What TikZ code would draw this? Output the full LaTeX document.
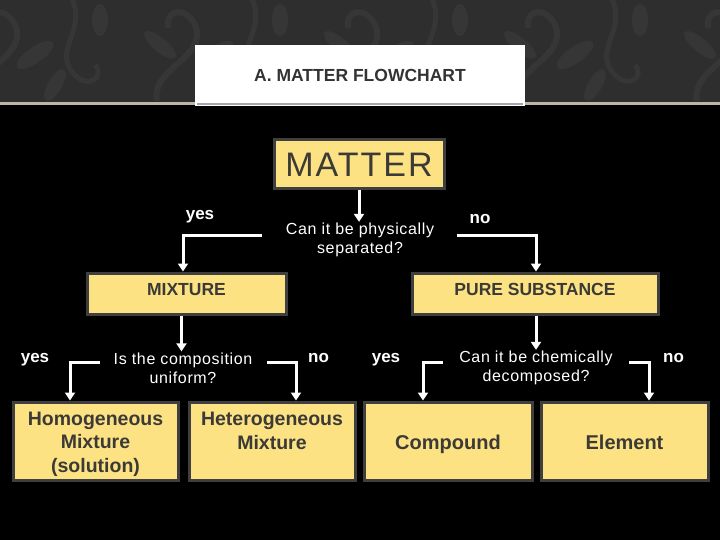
\documentclass[tikz,border=0pt]{standalone}
\usepackage{fontspec}
\setmainfont{Liberation Sans}
\usetikzlibrary{arrows.meta}
\definecolor{band}{HTML}{2E2E2E}
\definecolor{damask}{HTML}{363636}
\definecolor{boxfill}{HTML}{FCE283}
\definecolor{boxline}{HTML}{3F3F3F}
\definecolor{boxtext}{HTML}{3C3A36}
\definecolor{stripe}{HTML}{BDB6A0}
\definecolor{titletext}{HTML}{333333}
\begin{document}
\begin{tikzpicture}[x=1pt,y=-1pt,
  yellowbox/.style={draw=boxline, line width=3pt, fill=boxfill, text=boxtext,
    inner sep=0pt, align=center, font=\bfseries\fontsize{19.5}{23.5}\selectfont},
  catbox/.style={yellowbox, font=\bfseries\fontsize{17.5}{21}\selectfont,
    text height=12.5pt, text depth=8pt},
  boxlabel/.style={text=boxtext, inner sep=0pt, align=center,
    font=\bfseries\fontsize{19.5}{23.5}\selectfont},
  biglabel/.style={boxlabel, font=\bfseries\fontsize{20}{24}\selectfont},
  question/.style={text=white, align=center,
    font=\fontsize{16}{19}\selectfont\addfontfeatures{LetterSpace=4}, inner sep=1pt},
  answer/.style={text=white, font=\bfseries\fontsize{17}{20}\selectfont, inner sep=0pt, anchor=base},
  flow/.style={draw=white, line width=3pt, -{Triangle[width=10pt,length=8pt]}},
]
\useasboundingbox (0,0) rectangle (720,540);
\fill[black] (0,0) rectangle (720,540);
\fill[band] (0,0) rectangle (720,103);
% damask texture
\begin{scope}
  \clip (0,0) rectangle (720,101);
  \foreach \x in {-40,140,...,760}{
    \draw[damask, line width=6pt] (\x+20,110) .. controls (\x,70) and (\x+70,60) .. (\x+55,25)
      .. controls (\x+45,5) and (\x+25,10) .. (\x+28,28);
    \fill[damask, rotate around={35:(\x+75,55)}] (\x+75,55) ellipse (22 and 8);
    \fill[damask, rotate around={-40:(\x+20,45)}] (\x+20,45) ellipse (20 and 7);
    \fill[damask, rotate around={60:(\x+95,85)}] (\x+95,85) ellipse (18 and 7);
    \draw[damask, line width=5pt] (\x+110,-5) .. controls (\x+130,30) and (\x+90,50) .. (\x+115,75)
      .. controls (\x+130,90) and (\x+145,75) .. (\x+135,65);
    \fill[damask] (\x+140,20) ellipse (8 and 16);
  }
\end{scope}
\fill[stripe] (0,102) rectangle (720,105.5);

% title
\node[fill=white, minimum width=330pt, minimum height=61pt, inner sep=0pt,
  text=titletext, font=\bfseries\fontsize{17.5}{20}\selectfont] (title) at (360,75.5) {A. MATTER FLOWCHART};
\draw[gray!70, line width=1.5pt] (title.south west) ++(2,-2) -- ++(326,0);

% boxes
\node[yellowbox, minimum width=170pt, minimum height=49pt,
  font=\fontsize{34}{40}\selectfont\addfontfeatures{LetterSpace=6}] (matter) at (359,164.5) {MATTER};
\node[catbox, minimum width=199pt, minimum height=41pt] (mix) at (186.5,293.5) {MIXTURE};
\node[catbox, minimum width=246pt, minimum height=41pt] (pure) at (535,293.5) {PURE SUBSTANCE};
\node[yellowbox, minimum width=165pt, minimum height=78pt] (homo) at (95.5,441) {};
\node[yellowbox, minimum width=166pt, minimum height=78pt] (hetero) at (272,441) {};
\node[yellowbox, minimum width=168pt, minimum height=78pt] (comp) at (448,441) {};
\node[yellowbox, minimum width=167pt, minimum height=78pt] (elem) at (624.5,441) {};
\node[boxlabel] (homot) at (95.5,444) {Homogeneous\\Mixture\\(solution)};
\node[boxlabel] (hetet) at (272,431) {Heterogeneous\\Mixture};
\node[biglabel] (compt) at (448,444) {Compound};
\node[biglabel] (elemt) at (624.5,442) {Element};

% questions
\node[question] (q1) at (360,240) {Can it be physically\\separated?};
\node[question] (q2) at (183,368) {Is the composition\\uniform?};
\node[question] (q3) at (536,368) {Can it be chemically\\decomposed?};

% answers
\node[answer] (y1) at (200,220) {yes};
\node[answer] (n1) at (480,224) {no};
\node[answer] (y2) at (35,362) {yes};
\node[answer] (n2) at (318.5,362) {no};
\node[answer] (y3) at (386,362) {yes};
\node[answer] (n3) at (673.5,362) {no};

% connector ends
\coordinate (q1l) at (262,235);
\coordinate (q1r) at (457,235);
\coordinate (q2l) at (100,362);
\coordinate (q2r) at (267,362);
\coordinate (q3l) at (443,362);
\coordinate (q3r) at (629,362);

% connectors
\draw[flow] (matter.south) -- (matter.south |- q1.north);
\draw[flow] (q1l) -| ([xshift=-3.5pt]mix.north);
\draw[flow] (q1r) -| ([xshift=1pt]pure.north);
\draw[flow] ([xshift=-5pt]mix.south) -- ([xshift=-5pt]mix.south |- q2.north);
\draw[flow] ([xshift=1pt]pure.south) -- ([xshift=1pt]pure.south |- q3.north);
\draw[flow] (q2l) -| ([xshift=-25.5pt]homo.north);
\draw[flow] (q2r) -| ([xshift=24pt]hetero.north);
\draw[flow] (q3l) -| ([xshift=-25pt]comp.north);
\draw[flow] (q3r) -| ([xshift=24.5pt]elem.north);
\end{tikzpicture}
\end{document}
